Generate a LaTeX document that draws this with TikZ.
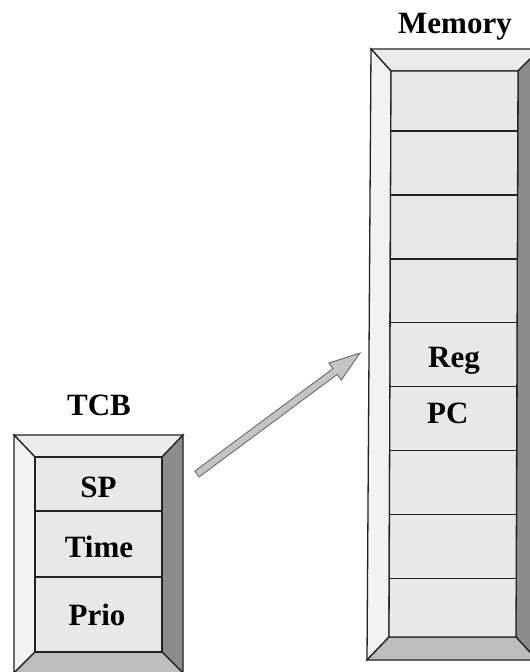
\documentclass[tikz,border=0pt]{standalone}
\usepackage{fontspec}
\setmainfont{Liberation Serif}
\usetikzlibrary{calc}
\definecolor{bevl}{HTML}{F2F2F2}
\definecolor{bevt}{HTML}{EBEBEB}
\definecolor{bevr}{HTML}{8C8C8C}
\definecolor{bevb}{HTML}{BDBDBD}
\definecolor{face}{HTML}{E8E8E8}
\definecolor{edge}{HTML}{222222}
\definecolor{arrfill}{HTML}{C4C4C4}
\definecolor{arredge}{HTML}{6A6A6A}
\tikzset{
  bevpart/.style={draw=edge, line width=1.3pt, line join=miter},
  facepart/.style={fill=face, draw=edge, line width=1.3pt},
  sepline/.style={draw=edge, line width=1.2pt},
  lbl/.style={font=\fontsize{31}{36}\selectfont\bfseries, inner sep=0pt, anchor=base},
  arrowbody/.style={fill=arrfill, draw=arredge, line width=0.9pt, line join=miter},
}
\newcommand\drawbevel[1]{%
  \filldraw[bevpart, fill=bevt] (#1A) -- (#1B) -- (#1b) -- (#1a) -- cycle;
  \filldraw[bevpart, fill=bevl] (#1A) -- (#1a) -- (#1d) -- (#1D) -- cycle;
  \filldraw[bevpart, fill=bevr] (#1B) -- (#1C) -- (#1c) -- (#1b) -- cycle;
  \filldraw[bevpart, fill=bevb] (#1D) -- (#1d) -- (#1c) -- (#1C) -- cycle;
  \filldraw[facepart] (#1a) -- (#1b) -- (#1c) -- (#1d) -- cycle;
}
\begin{document}
\begin{tikzpicture}[x=1pt,y=-1pt]
\useasboundingbox (0,0) rectangle (530,672);
\clip (0,0) rectangle (530,672);

% TCB box
\coordinate (tA) at (14,435);
\coordinate (tB) at (183,435);
\coordinate (tC) at (183,673);
\coordinate (tD) at (14,673);
\coordinate (ta) at (35,457);
\coordinate (tb) at (162,457);
\coordinate (tc) at (162,652);
\coordinate (td) at (35,652);
\drawbevel{t}
\draw[sepline] (35,511) -- (162,511);
\draw[sepline] (35,577) -- (162,577);

% Memory box
\coordinate (mA) at (371,49);
\coordinate (mB) at (540,49);
\coordinate (mC) at (537,660);
\coordinate (mD) at (367,660);
\coordinate (ma) at (391,71);
\coordinate (mb) at (518,71);
\coordinate (mc) at (516,637);
\coordinate (md) at (389,637);
\drawbevel{m}
\foreach \t in {0.106,0.219,0.332,0.445,0.558,0.671,0.783,0.896}
  \draw[sepline] ($(ma)!\t!(md)$) -- ($(mb)!\t!(mc)$);

% titles and labels
\node[lbl] (tcbtitle) at (99,415) {TCB};
\node[lbl] (memtitle) at (455,33) {Memory};
\node[lbl] (sp) at (98.5,497) {SP};
\node[lbl] (time) at (99,557) {Time};
\node[lbl] (prio) at (97,625) {Prio};
\node[lbl, anchor=base west] (reg) at (428,367) {Reg};
\node[lbl, anchor=base west] (pc) at (427,423) {PC};

% arrow
\coordinate (atail) at (197,474);
\coordinate (atip) at (360,353);
\coordinate (ahead) at ($(atail)!172pt!(atip)$);
\filldraw[arrowbody]
  ($(atail)!3.6pt!90:(atip)$) -- ($(ahead)!3.6pt!90:(atip)$) --
  ($(ahead)!10.5pt!90:(atip)$) -- (atip) --
  ($(ahead)!10.5pt!-90:(atip)$) -- ($(ahead)!3.6pt!-90:(atip)$) --
  ($(atail)!3.6pt!-90:(atip)$) -- cycle;
\end{tikzpicture}
\end{document}
